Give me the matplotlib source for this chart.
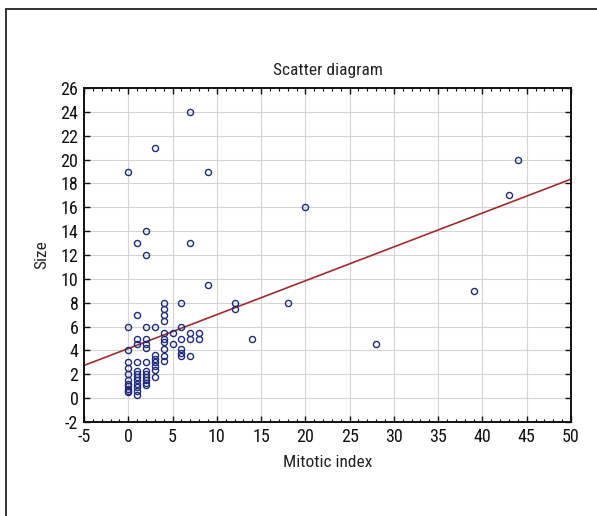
import matplotlib
matplotlib.use("Agg")
import matplotlib.pyplot as plt
from matplotlib.ticker import MultipleLocator
from matplotlib.patches import Rectangle
from matplotlib import font_manager
import numpy as np

# ---- data ----
mitotic_index = [
    0, 0, 0, 0, 0, 0, 0, 0, 0, 0, 0, 0,
    1, 1, 1, 1, 1, 1, 1, 1, 1, 1, 1, 1, 1,
    2, 2, 2, 2, 2, 2, 2, 2, 2, 2, 2, 2, 2,
    3, 3, 3, 3, 3, 3, 3, 3,
    4, 4, 4, 4, 4, 4, 4, 4, 4, 4,
    5, 5,
    6, 6, 6, 6, 6, 6,
    7, 7, 7, 7, 7,
    8, 8,
    9, 9,
    12, 12,
    14, 18, 20, 28, 39, 43, 44,
]
size = [
    19, 6, 4, 3, 2.5, 2, 1.5, 1.2, 1, 0.8, 0.6, 0.5,
    13, 7, 5, 4.5, 3, 2.3, 2, 1.75, 1.5, 1.2, 0.9, 0.6, 0.3,
    14, 12, 6, 5, 4.5, 4.2, 3, 2.3, 2, 1.8, 1.5, 1.3, 1.1,
    21, 6, 3.6, 3.3, 3, 2.7, 2.4, 1.8,
    8, 7.5, 7, 6.5, 5.5, 5, 4.7, 4.1, 3.5, 3.1,
    5.5, 4.5,
    8, 6, 5, 4.1, 3.8, 3.5,
    24, 13, 5.5, 5, 3.5,
    5.5, 5,
    19, 9.5,
    8, 7.5,
    5, 8, 16, 4.5, 9, 17, 20,
]
fit_intercept = 4.16
fit_slope = 0.284
x_ticks = list(range(-5, 51, 5))
y_ticks = list(range(-2, 27, 2))
title = "Scatter diagram"
x_label = "Mitotic index"
y_label = "Size"

# ---- font ----
names = {f.name for f in font_manager.fontManager.ttflist}
fam = None
for cand in ["Liberation Sans Narrow", "DejaVu Sans Condensed", "Roboto Condensed", "Open Sans Condensed", "Liberation Sans"]:
    if cand in names:
        fam = cand
        break
if fam:
    plt.rcParams["font.family"] = [fam, "DejaVu Sans"]

W, H = 597, 516
fig = plt.figure(figsize=(W / 100, H / 100), dpi=100)
fig.patch.set_facecolor("white")

# outer frame (extends past right/bottom edges)
fig.patches.append(Rectangle((6 / W, -0.1), 1.2, 1 - 9 / H + 0.1,
                             transform=fig.transFigure, fill=False,
                             edgecolor="#333333", lw=1.4, clip_on=False))

left, right, top, bottom = 84 / W, 571 / W, 88 / H, 422 / H
ax = fig.add_axes([left, 1 - bottom, right - left, bottom - top])

ax.set_xlim(-5, 50)
ax.set_ylim(-2, 26)
ax.set_xticks(x_ticks)
ax.set_yticks(y_ticks)
ax.set_xticklabels([str(t) for t in x_ticks])
ax.set_yticklabels([str(t) for t in y_ticks])
ax.xaxis.set_minor_locator(MultipleLocator(1))

ax.grid(True, which="major", color="#d4d4d4", lw=0.8)
ax.set_axisbelow(True)

for s in ax.spines.values():
    s.set_linewidth(1.4)
    s.set_color("#111111")

ax.tick_params(which="major", direction="in", length=4, width=1.0,
               top=True, right=True, labelsize=13, pad=4, colors="#111111")
ax.tick_params(which="minor", direction="in", length=2.5, width=0.8,
               top=True, right=False, left=False)
ax.tick_params(axis="y", which="minor", left=False, right=False)

# regression line
xs = np.array(ax.get_xlim())
ax.plot(xs, fit_intercept + fit_slope * xs, color="#a32a2e", lw=1.2, zorder=2)

ax.plot(mitotic_index, size, linestyle="none", marker="o", ms=4.4,
        mfc="none", mec="#1f2b7e", mew=1.0, zorder=3)

ax.set_title(title, fontsize=12.5, pad=9, color="#222222")
ax.set_xlabel(x_label, fontsize=12.5, labelpad=7, color="#222222")
ax.set_ylabel(y_label, fontsize=12.5, labelpad=8, color="#222222")

fig.savefig("out.png", dpi=100)
